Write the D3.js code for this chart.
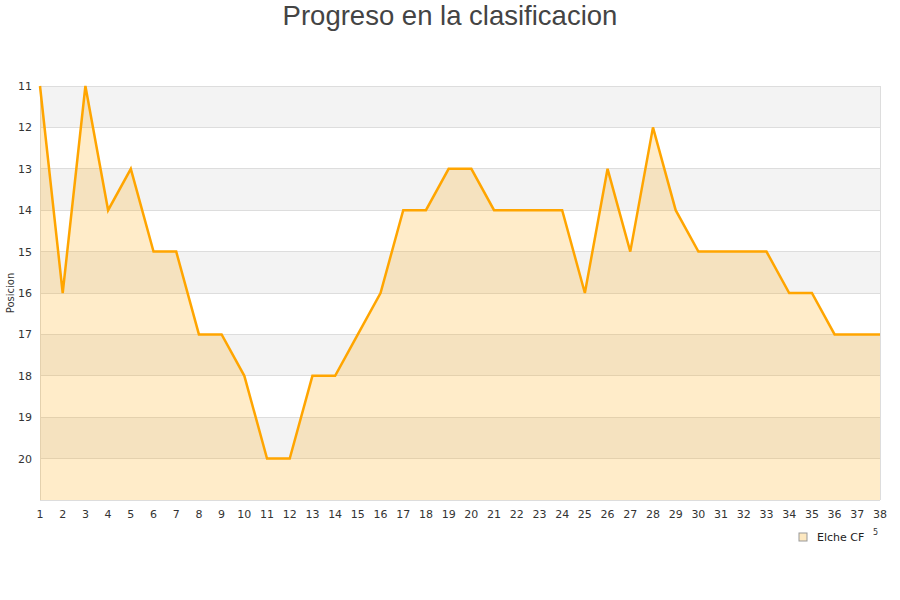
<!DOCTYPE html>
<html><head><meta charset="utf-8">
<script src="https://cdn.jsdelivr.net/npm/d3@7"></script>
<style>body{margin:0;background:#fff;font-family:"DejaVu Sans",sans-serif;}</style>
</head><body><svg id="c" width="900" height="600"></svg>
<script>
const jornadas = d3.range(1, 39);
const posiciones = [11,16,11,14,13,15,15,17,17,18,20,20,18,18,17,16,14,14,13,13,14,14,14,14,16,13,15,12,14,15,15,15,15,16,16,17,17,17];
const yTicks = [11,12,13,14,15,16,17,18,19,20];
const seriesName = "Elche CF";
const title = "Progreso en la clasificacion";
const yTitle = "Posicion";

const svg = d3.select("#c");
const L = 40, R = 880, T = 86, B = 500;
const x = d3.scaleLinear().domain([1, 38]).range([L, R]);
const y = d3.scaleLinear().domain([11, 21]).range([T, B]);

// bands
for (let v = 11; v < 21; v++) {
  svg.append("rect").attr("x", L).attr("width", R - L)
    .attr("y", y(v)).attr("height", y(v + 1) - y(v))
    .attr("fill", (v % 2 === 1) ? "#f3f3f3" : "#ffffff");
}
// grid
yTicks.concat([21]).forEach(v => {
  svg.append("line").attr("x1", L).attr("x2", R).attr("y1", y(v)).attr("y2", y(v))
    .attr("stroke", "#dddddd").attr("stroke-width", 1).attr("shape-rendering", "crispEdges");
});
svg.append("line").attr("x1", L).attr("x2", L).attr("y1", T).attr("y2", B).attr("stroke", "#dddddd").attr("shape-rendering", "crispEdges");
svg.append("line").attr("x1", R).attr("x2", R).attr("y1", T).attr("y2", B).attr("stroke", "#dddddd").attr("shape-rendering", "crispEdges");

const data = jornadas.map((j, i) => ({j, p: posiciones[i]}));
svg.append("path").datum(data)
  .attr("d", d3.area().x(d => x(d.j)).y0(y(21)).y1(d => y(d.p)))
  .attr("fill", "#ffa500").attr("fill-opacity", 0.21);
svg.append("path").datum(data)
  .attr("d", d3.line().x(d => x(d.j)).y(d => y(d.p)))
  .attr("fill", "none").attr("stroke", "#ffa500").attr("stroke-width", 2.5).attr("stroke-linejoin", "miter");

// y ticks
svg.append("g").selectAll("text").data(yTicks).join("text")
  .attr("x", 32).attr("y", d => y(d) + 4).attr("text-anchor", "end")
  .attr("font-size", 11).attr("fill", "#333").text(d => d);
// x ticks
svg.append("g").selectAll("text").data(jornadas).join("text")
  .attr("x", d => x(d)).attr("y", 518).attr("text-anchor", "middle")
  .attr("font-size", 11).attr("fill", "#333").text(d => d);

svg.append("text").attr("x", 450).attr("y", 25).attr("text-anchor", "middle")
  .attr("font-size", 27.5).attr("fill", "#444").attr("font-family", "Liberation Sans, Arial, sans-serif").text(title);
svg.append("text").attr("transform", "translate(14,293) rotate(-90)").attr("text-anchor", "middle")
  .attr("font-size", 10).attr("fill", "#333").text(yTitle);

// legend
svg.append("rect").attr("x", 799).attr("y", 533).attr("width", 8).attr("height", 8)
  .attr("fill", "#fde8c0").attr("stroke", "#999").attr("stroke-width", 1);
svg.append("text").attr("x", 817).attr("y", 541).attr("font-size", 11).attr("fill", "#222").text(seriesName);
svg.append("text").attr("x", 873).attr("y", 535).attr("font-size", 8).attr("fill", "#333").text("5");
</script></body></html>
